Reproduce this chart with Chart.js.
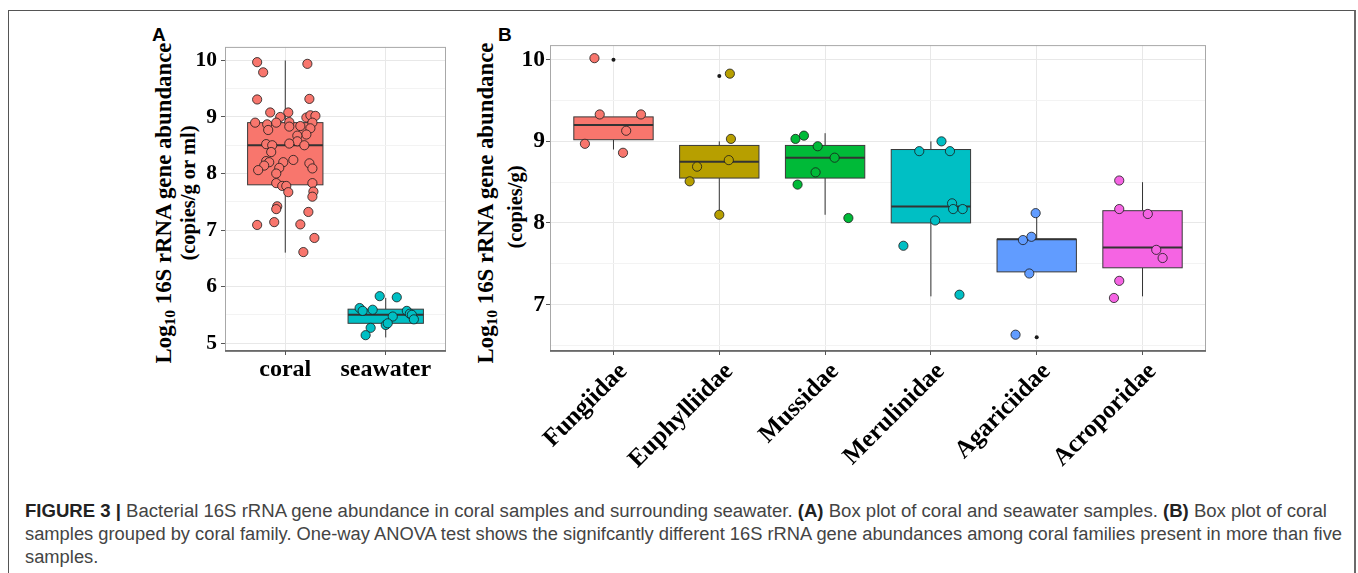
<!doctype html>
<html>
<head>
<meta charset="utf-8">
<title>16S rRNA gene abundance box plots</title>
<script src="https://cdn.jsdelivr.net/npm/chart.js@4.4.0/dist/chart.umd.min.js"></script>
<style>
body { margin: 0; background: #fff; }
#fig { position: relative; width: 1358px; height: 573px; overflow: hidden; }
#frame { position: absolute; left: 8px; top: 10px; width: 1345px; height: 620px;
         border: 1px solid #555; border-right: 2px solid #6a6a6a; }
canvas { position: absolute; }
.ytitle { position: absolute; font-family: "Liberation Serif", serif; font-weight: bold; white-space: nowrap;
          color: #000; transform: translate(-50%, -50%) rotate(-90deg); line-height: 1; }
.ytitle sub { font-size: 0.68em; vertical-align: -0.28em; }
.plabel { position: absolute; font-family: "Liberation Sans", Arial, sans-serif; font-weight: bold; font-size: 19px; line-height: 19px; }
.cap { position: absolute; left: 25px; white-space: nowrap; font-family: "Liberation Sans", Arial, sans-serif;
       font-size: 18px; line-height: 23px; color: #444; transform-origin: 0 0; }
.cap b { color: #222; }
</style>
</head>
<body>
<div id="fig">
  <div id="frame"></div>

  <div class="plabel" style="left:152px; top:25px;">A</div>
  <div class="plabel" style="left:498px; top:25px;">B</div>

  <div class="ytitle" style="left:165px; top:203px; font-size:22.8px;">Log<sub>10</sub> 16S rRNA gene abundance</div>
  <div class="ytitle" style="left:188px; top:193px; font-size:20.5px;">(copies/g or ml)</div>
  <div class="ytitle" style="left:487px; top:203px; font-size:22.8px;">Log<sub>10</sub> 16S rRNA gene abundance</div>
  <div class="ytitle" style="left:515px; top:207px; font-size:20.5px;">(copies/g)</div>

  <canvas id="chartA" width="320" height="380" style="left:140px; top:30px;"></canvas>
  <canvas id="chartB" width="700" height="450" style="left:515px; top:30px;"></canvas>

  <div class="cap" id="cap1" style="top:500px;"><b>FIGURE 3 |</b> Bacterial 16S rRNA gene abundance in coral samples and surrounding seawater. <b>(A)</b> Box plot of coral and seawater samples. <b>(B)</b> Box plot of coral</div>
  <div class="cap" id="cap2" style="top:523px;">samples grouped by coral family. One-way ANOVA test shows the signifcantly different 16S rRNA gene abundances among coral families present in more than five</div>
  <div class="cap" id="cap3" style="top:546px;">samples.</div>
</div>

<script>
// ---- panel A: coral vs seawater ----
const groupsA = ['coral', 'seawater'];
const colorsA = ['#F8766D', '#00BFC4'];
const lowA  = [6.6, 5.1];
const q1A   = [7.8, 5.35];
const medA  = [8.5, 5.5];
const q3A   = [8.9, 5.6];
const highA = [10.0, 5.8];

const coralVals = [9.97, 9.79, 9.94, 9.31, 9.32, 9.08, 9.08, 9.00, 8.99, 9.03, 9.02, 8.90, 8.87, 8.90, 8.91,
  8.77, 8.83, 8.84, 8.90, 8.80, 8.69, 8.67, 8.57, 8.53, 8.52, 8.50, 8.50, 8.38, 8.22, 8.20, 8.20, 8.24,
  8.14, 8.06, 8.10, 8.00, 8.18, 8.09, 7.83, 7.78, 7.78, 7.67, 7.83, 7.68, 7.59, 7.42, 7.37, 7.32, 7.09,
  7.14, 7.10, 6.86, 6.61];
// horizontal jitter, in category units
const coralJit = [-0.28, -0.22, 0.22, -0.28, 0.24, -0.15, 0.03, -0.05, 0.21, 0.25, 0.30, -0.30, -0.18, -0.09, 0.04,
  -0.17, 0.04, 0.15, 0.27, 0.25, 0.21, 0.12, 0.12, 0.04, -0.19, -0.13, 0.19, -0.14, -0.19, -0.16, -0.02, 0.08,
  -0.21, -0.27, -0.06, -0.09, 0.24, 0.27, -0.09, -0.03, 0.01, 0.03, 0.27, 0.28, 0.27, -0.08, -0.09, 0.23, -0.28,
  -0.11, 0.15, 0.29, 0.18];
const seaVals = [5.83, 5.81, 5.62, 5.57, 5.59, 5.47, 5.57, 5.52, 5.50, 5.42, 5.32, 5.35, 5.27, 5.14];
const seaJit  = [-0.06, 0.11, -0.26, -0.23, -0.13, 0.07, 0.21, 0.24, 0.26, 0.28, 0.00, 0.02, -0.15, -0.20];

const majorA = [5, 6, 7, 8, 9, 10];
const minorA = [5.5, 6.5, 7.5, 8.5, 9.5];

// ---- panel B: coral families ----
const familiesB = ['Fungiidae', 'Euphylliidae', 'Mussidae', 'Merulinidae', 'Agariciidae', 'Acroporidae'];
const colorsB = ['#F8766D', '#B79F00', '#00BA38', '#00BFC4', '#619CFF', '#F564E3'];
const lowB  = [8.9, 8.1, 8.1, 7.1, 7.4, 7.1];
const q1B   = [9.02, 8.55, 8.55, 8.0, 7.4, 7.45];
const medB  = [9.2, 8.75, 8.8, 8.2, 7.8, 7.7];
const q3B   = [9.3, 8.95, 8.95, 8.9, 7.8, 8.15];
const highB = [9.3, 9.0, 9.1, 9.0, 8.12, 8.5];
const outliersB = [[10.0], [9.8], [], [], [6.6], []];

const valsB = [
  [10.02, 9.33, 9.33, 9.13, 8.97, 8.86],
  [9.83, 9.03, 8.77, 8.69, 8.51, 8.10],
  [9.03, 9.07, 8.94, 8.80, 8.62, 8.47, 8.06],
  [8.88, 9.00, 8.88, 8.24, 8.17, 8.17, 8.03, 7.72, 7.12],
  [8.12, 7.79, 7.83, 7.38, 6.63],
  [8.52, 8.17, 8.11, 7.67, 7.57, 7.29, 7.08]
];
const jitB = [
  [-0.18, -0.13, 0.26, 0.12, -0.27, 0.09],
  [0.10, 0.11, 0.09, -0.21, -0.28, 0.00],
  [-0.28, -0.20, -0.07, 0.09, -0.09, -0.26, 0.22],
  [-0.11, 0.10, 0.18, 0.20, 0.21, 0.30, 0.04, -0.26, 0.27],
  [-0.01, -0.13, -0.05, -0.07, -0.20],
  [-0.22, -0.22, 0.05, 0.13, 0.19, -0.22, -0.27]
];

const majorB = [7, 8, 9, 10];
const minorB = [6.5, 7.5, 8.5, 9.5];

const serif = 'Liberation Serif';

// box + whisker drawing, done with the chart's own scales
function boxPlugin(stats) {
  return {
    id: 'boxes',
    beforeDatasetsDraw(chart) {
      const ctx = chart.ctx, x = chart.scales.x, y = chart.scales.y;
      const half = x.getPixelForValue(1.375) - x.getPixelForValue(1);
      stats.low.forEach((lo, i) => {
        const cx = x.getPixelForValue(i + 1);
        const yLo = y.getPixelForValue(lo), yQ1 = y.getPixelForValue(stats.q1[i]);
        const yMed = y.getPixelForValue(stats.med[i]);
        const yQ3 = y.getPixelForValue(stats.q3[i]), yHi = y.getPixelForValue(stats.high[i]);
        ctx.save();
        ctx.strokeStyle = '#333';
        ctx.lineWidth = 1;
        ctx.beginPath();
        ctx.moveTo(cx, yLo); ctx.lineTo(cx, yQ1);
        ctx.moveTo(cx, yQ3); ctx.lineTo(cx, yHi);
        ctx.stroke();
        ctx.fillStyle = stats.colors[i];
        ctx.fillRect(cx - half, yQ3, half * 2, yQ1 - yQ3);
        ctx.strokeStyle = '#3a3a3a';
        ctx.strokeRect(cx - half, yQ3, half * 2, yQ1 - yQ3);
        ctx.strokeStyle = '#333';
        ctx.lineWidth = 2;
        ctx.beginPath();
        ctx.moveTo(cx - half, yMed); ctx.lineTo(cx + half, yMed);
        ctx.stroke();
        ctx.restore();
      });
    }
  };
}

const framePlugin = {
  id: 'frame',
  afterDatasetsDraw(chart) {
    const { ctx, chartArea: a } = chart;
    ctx.save();
    ctx.strokeStyle = '#a8a8a8';
    ctx.lineWidth = 1;
    ctx.strokeRect(a.left + 0.5, a.top + 0.5, a.right - a.left - 1, a.bottom - a.top - 1);
    ctx.strokeStyle = '#555';
    ctx.lineWidth = 1.3;
    ctx.beginPath();
    ctx.moveTo(a.left, a.bottom); ctx.lineTo(a.right, a.bottom);
    ctx.stroke();
    ctx.restore();
  }
};

function makePanel(id, p) {
  const datasets = [];
  p.groups.forEach((g, i) => {
    datasets.push({
      data: p.vals[i].map((v, k) => ({ x: i + 1 + p.jit[i][k], y: v })),
      backgroundColor: p.colors[i],
      borderColor: '#1a1a1a',
      borderWidth: 0.8,
      pointRadius: 4.6
    });
  });
  if (p.outliers) {
    datasets.unshift({
      data: p.outliers.flatMap((arr, i) => arr.map(v => ({ x: i + 1, y: v }))),
      backgroundColor: '#1a1a1a',
      borderWidth: 0,
      pointRadius: 2
    });
  }
  const major = p.major;
  return new Chart(document.getElementById(id), {
    type: 'scatter',
    data: { datasets },
    options: {
      responsive: false,
      animation: false,
      events: [],
      layout: { padding: { top: 10, right: p.padRight, left: 0, bottom: 0 } },
      plugins: { legend: { display: false }, tooltip: { enabled: false } },
      scales: {
        x: {
          type: 'linear', bounds: 'data',
          min: 0.4, max: p.groups.length + 0.6,
          afterBuildTicks: s => { s.ticks = p.groups.map((g, i) => ({ value: i + 1 })); },
          afterFit: s => { s.height = p.xHeight; },
          ticks: {
            callback: v => p.groups[Math.round(v) - 1] || '',
            autoSkip: false, maxRotation: p.rot, minRotation: p.rot,
            labelOffset: p.labelOffset, padding: p.xPad,
            color: '#000', font: { family: serif, weight: 'bold', size: p.xFont }
          },
          grid: { color: '#e8e8e8', tickColor: '#555', tickLength: 4 },
          border: { display: false }
        },
        y: {
          bounds: 'data', min: p.yMin, max: p.yMax,
          afterBuildTicks: s => {
            s.ticks = major.concat(p.minor).sort((a, b) => a - b).map(v => ({ value: v }));
          },
          afterFit: s => { s.width = p.yWidth; },
          ticks: {
            callback: v => major.includes(v) ? String(v) : '',
            padding: p.yPad, color: '#000', font: { family: serif, weight: 'bold', size: p.yFont }
          },
          grid: {
            color: c => major.includes(c.tick.value) ? '#e8e8e8' : '#f3f3f3',
            tickColor: c => major.includes(c.tick.value) ? '#555' : 'rgba(0,0,0,0)',
            tickLength: 4
          },
          border: { display: false }
        }
      }
    },
    plugins: [boxPlugin(p.stats), framePlugin]
  });
}

makePanel('chartA', {
  groups: groupsA, colors: colorsA,
  vals: [coralVals, seaVals], jit: [coralJit, seaJit],
  stats: { low: lowA, q1: q1A, med: medA, q3: q3A, high: highA, colors: colorsA },
  major: majorA, minor: minorA, yMin: 4.86, yMax: 10.24,
  yWidth: 85, xHeight: 59, padRight: 14, rot: 0, labelOffset: 0, xPad: 0,
  xFont: 24, yFont: 21.5, yPad: 4
});

makePanel('chartB', {
  groups: familiesB, colors: colorsB,
  vals: valsB, jit: jitB, outliers: outliersB,
  stats: { low: lowB, q1: q1B, med: medB, q3: q3B, high: highB, colors: colorsB },
  major: majorB, minor: minorB, yMin: 6.43, yMax: 10.18,
  yWidth: 35, xHeight: 129, padRight: 9, rot: 45, labelOffset: 10, xPad: 2,
  xFont: 25, yFont: 23.5, yPad: 1
});

// squeeze caption lines to the widths of the original figure
const capTargets = { cap1: 1302, cap2: 1317 };
let lastScale = 1;
['cap1', 'cap2', 'cap3'].forEach(id => {
  const el = document.getElementById(id);
  const w = el.getBoundingClientRect().width;
  const s = capTargets[id] ? capTargets[id] / w : lastScale;
  el.style.transform = 'scaleX(' + s + ')';
  lastScale = s;
});
</script>
</body>
</html>
